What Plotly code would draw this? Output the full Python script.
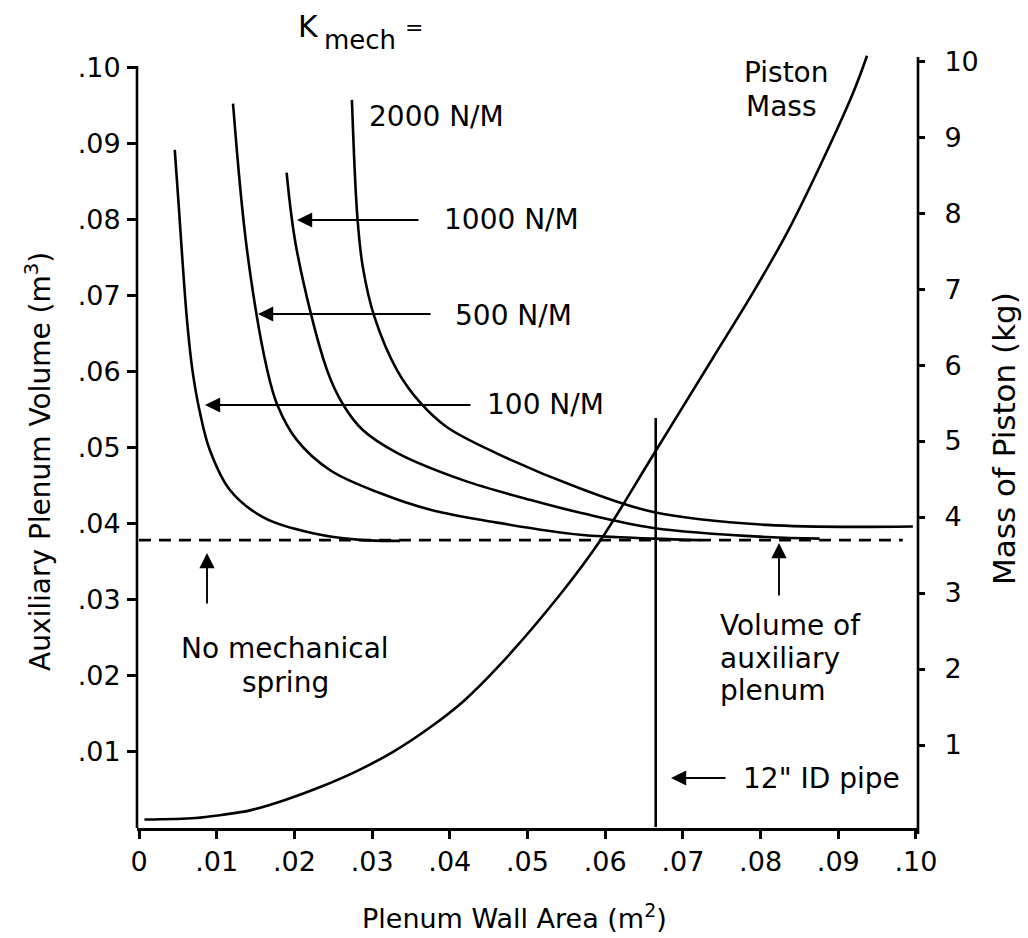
import plotly.graph_objects as go

# ---------------- data ----------------
# Plenum wall area (m^2) vs auxiliary plenum volume (m^3), per mechanical spring constant
k100_area = [0.0046, 0.0051, 0.0056, 0.0062, 0.0069, 0.0078, 0.0091, 0.0117, 0.0160, 0.0224, 0.0288, 0.0336]
k100_vol = [0.0892, 0.0820, 0.0745, 0.0665, 0.0600, 0.0548, 0.0497, 0.0444, 0.0408, 0.0387, 0.0378, 0.0377]

k500_area = [0.0121, 0.0139, 0.0165, 0.0178, 0.0203, 0.0246, 0.0310, 0.0375, 0.0461, 0.0568, 0.0662, 0.0722]
k500_vol = [0.0953, 0.0760, 0.0602, 0.0556, 0.0510, 0.0470, 0.0440, 0.0418, 0.0401, 0.0385, 0.0380, 0.0378]

k1000_area = [0.0190, 0.0203, 0.0242, 0.0263, 0.0288, 0.0332, 0.0417, 0.0503, 0.0568, 0.0662, 0.0808, 0.0876]
k1000_vol = [0.0862, 0.0760, 0.0602, 0.0556, 0.0523, 0.0493, 0.0457, 0.0431, 0.0414, 0.0394, 0.0382, 0.0380]

k2000_area = [0.0274, 0.0281, 0.0288, 0.0303, 0.0332, 0.0362, 0.0396, 0.0461, 0.0568, 0.0662, 0.0808, 0.0996]
k2000_vol = [0.0958, 0.0804, 0.0738, 0.0672, 0.0602, 0.0559, 0.0527, 0.0492, 0.0446, 0.0415, 0.0398, 0.0396]

# Piston mass (kg, right axis)
piston_area = [0.0007, 0.0073, 0.0106, 0.0143, 0.0189, 0.0234, 0.0281, 0.0327, 0.0373, 0.0418,
               0.0465, 0.0542, 0.0593, 0.0662, 0.0739, 0.0790, 0.0834, 0.0876, 0.0919, 0.0937]
piston_mass = [0.02, 0.04, 0.08, 0.14, 0.28, 0.45, 0.66, 0.91, 1.22, 1.58,
               2.06, 2.98, 3.68, 4.82, 6.10, 6.95, 7.74, 8.61, 9.58, 10.07]

# Volume of auxiliary plenum (no mechanical spring) and 12" ID pipe area
aux_volume_area = [0.0, 0.0983]
aux_volume = [0.0378, 0.0378]
pipe_area = [0.0665, 0.0665]
pipe_vol = [0.0, 0.0539]

x_ticks = [0.0, 0.01, 0.02, 0.03, 0.04, 0.05, 0.06, 0.07, 0.08, 0.09, 0.10]
x_tick_text = ["0", ".01", ".02", ".03", ".04", ".05", ".06", ".07", ".08", ".09", ".10"]
y_ticks = [0.01, 0.02, 0.03, 0.04, 0.05, 0.06, 0.07, 0.08, 0.09, 0.10]
y_tick_text = [".01", ".02", ".03", ".04", ".05", ".06", ".07", ".08", ".09", ".10"]
y2_ticks = [1, 2, 3, 4, 5, 6, 7, 8, 9, 10]
y2_tick_text = ["1", "2", "3", "4", "5", "6", "7", "8", "9", "10"]

# ---------------- layout geometry ----------------
W, H = 1028, 938
ML, MR, MT, MB = 137, 110, 55, 110
PW, PH = W - ML - MR, H - MT - MB
FONT = "DejaVu Sans, Verdana, sans-serif"
LW = 2.6


def px(xp):
    return (xp - ML) / PW


def py(yp):
    return (H - MB - yp) / PH


fig = go.Figure()

line_style = dict(color="black", width=LW, shape="spline", smoothing=1.0)
for ax_, vol_ in [(k100_area, k100_vol), (k500_area, k500_vol),
                  (k1000_area, k1000_vol), (k2000_area, k2000_vol)]:
    fig.add_trace(go.Scatter(x=ax_, y=vol_, mode="lines", line=line_style,
                             showlegend=False, hoverinfo="skip"))

fig.add_trace(go.Scatter(x=aux_volume_area, y=aux_volume, mode="lines",
                         line=dict(color="black", width=LW, dash="12px,8px"),
                         showlegend=False, hoverinfo="skip"))
fig.add_trace(go.Scatter(x=pipe_area, y=pipe_vol, mode="lines",
                         line=dict(color="black", width=LW),
                         showlegend=False, hoverinfo="skip"))
fig.add_trace(go.Scatter(x=piston_area, y=piston_mass, mode="lines", yaxis="y2",
                         line=dict(color="black", width=LW, shape="spline", smoothing=1.0),
                         showlegend=False, hoverinfo="skip", cliponaxis=False))

tickfont = dict(family=FONT, size=27, color="black")

fig.update_layout(
    width=W, height=H,
    margin=dict(l=ML, r=MR, t=MT, b=MB, pad=0),
    paper_bgcolor="white", plot_bgcolor="white",
    showlegend=False,
    xaxis=dict(range=[-0.00026, 0.10026], tickvals=x_ticks, ticktext=x_tick_text,
               showgrid=False, zeroline=False, showline=True, linecolor="black",
               linewidth=LW, ticks="outside", ticklen=8, tickwidth=LW,
               tickcolor="black", tickfont=tickfont),
    yaxis=dict(range=[-0.00013, 0.10171], tickvals=y_ticks, ticktext=y_tick_text,
               showgrid=False, zeroline=False, showline=False,
               ticks="outside", ticklen=9, tickwidth=LW, tickcolor="black",
               tickfont=tickfont, ticklabelstandoff=1),
    yaxis2=dict(range=[-0.092, 10.08], tickvals=y2_ticks, ticktext=y2_tick_text,
                overlaying="y", side="right", showgrid=False, zeroline=False,
                showline=False, ticks="outside", ticklen=6, tickwidth=LW,
                tickcolor="black", tickfont=tickfont, ticklabelstandoff=14),
)

# axis lines (left and right) with their drawn extents
fig.add_shape(type="line", xref="paper", yref="paper", x0=0, x1=0, y0=0, y1=py(66),
              line=dict(color="black", width=LW))
fig.add_shape(type="line", xref="paper", yref="paper", x0=1, x1=1, y0=py(834), y1=py(57),
              line=dict(color="black", width=LW))


def label(text, xp, yp, xanchor="left", size=28, angle=0):
    fig.add_annotation(text=text, xref="paper", yref="paper", x=px(xp), y=py(yp),
                       xanchor=xanchor, yanchor="middle", showarrow=False, textangle=angle,
                       font=dict(family=FONT, size=size, color="black"))


def arrow(head_x, head_y, dx, dy):
    fig.add_annotation(text="", xref="paper", yref="paper", x=px(head_x), y=py(head_y),
                       ax=dx, ay=dy, showarrow=True, arrowhead=2, arrowsize=1.6,
                       arrowwidth=1.9, arrowcolor="black")


# K_mech =
label("K", 296, 27, size=30)
label("mech", 322, 40, size=26)
label("=", 403, 28, size=22)

label("2000 N/M", 367, 117)
label("1000 N/M", 442, 220)
label("500 N/M", 453, 315)
label("100 N/M", 485, 404)
label("Piston", 742, 73)
label("Mass", 744, 106)
label("No mechanical", 285, 648, xanchor="center")
label("spring", 285, 682, xanchor="center")
label("Volume of", 718, 625)
label("auxiliary", 718, 658)
label("plenum", 718, 690)
label("12\" ID pipe", 741, 778)

arrow(297, 220, 123, 0)
arrow(258, 314, 174, 0)
arrow(205, 405, 267, 0)
arrow(207, 553, 0, 52)
arrow(779, 543, 0, 54)
arrow(671, 778, 56, 0)

# axis titles
label("Plenum Wall Area (m<sup>2</sup>)", 514, 916, xanchor="center", size=27)
label("Auxiliary Plenum Volume (m<sup>3</sup>)", 38, 462, xanchor="center", size=28, angle=-90)
label("Mass of Piston (kg)", 1004, 439, xanchor="center", size=31, angle=-90)

fig.write_html("out.html")
